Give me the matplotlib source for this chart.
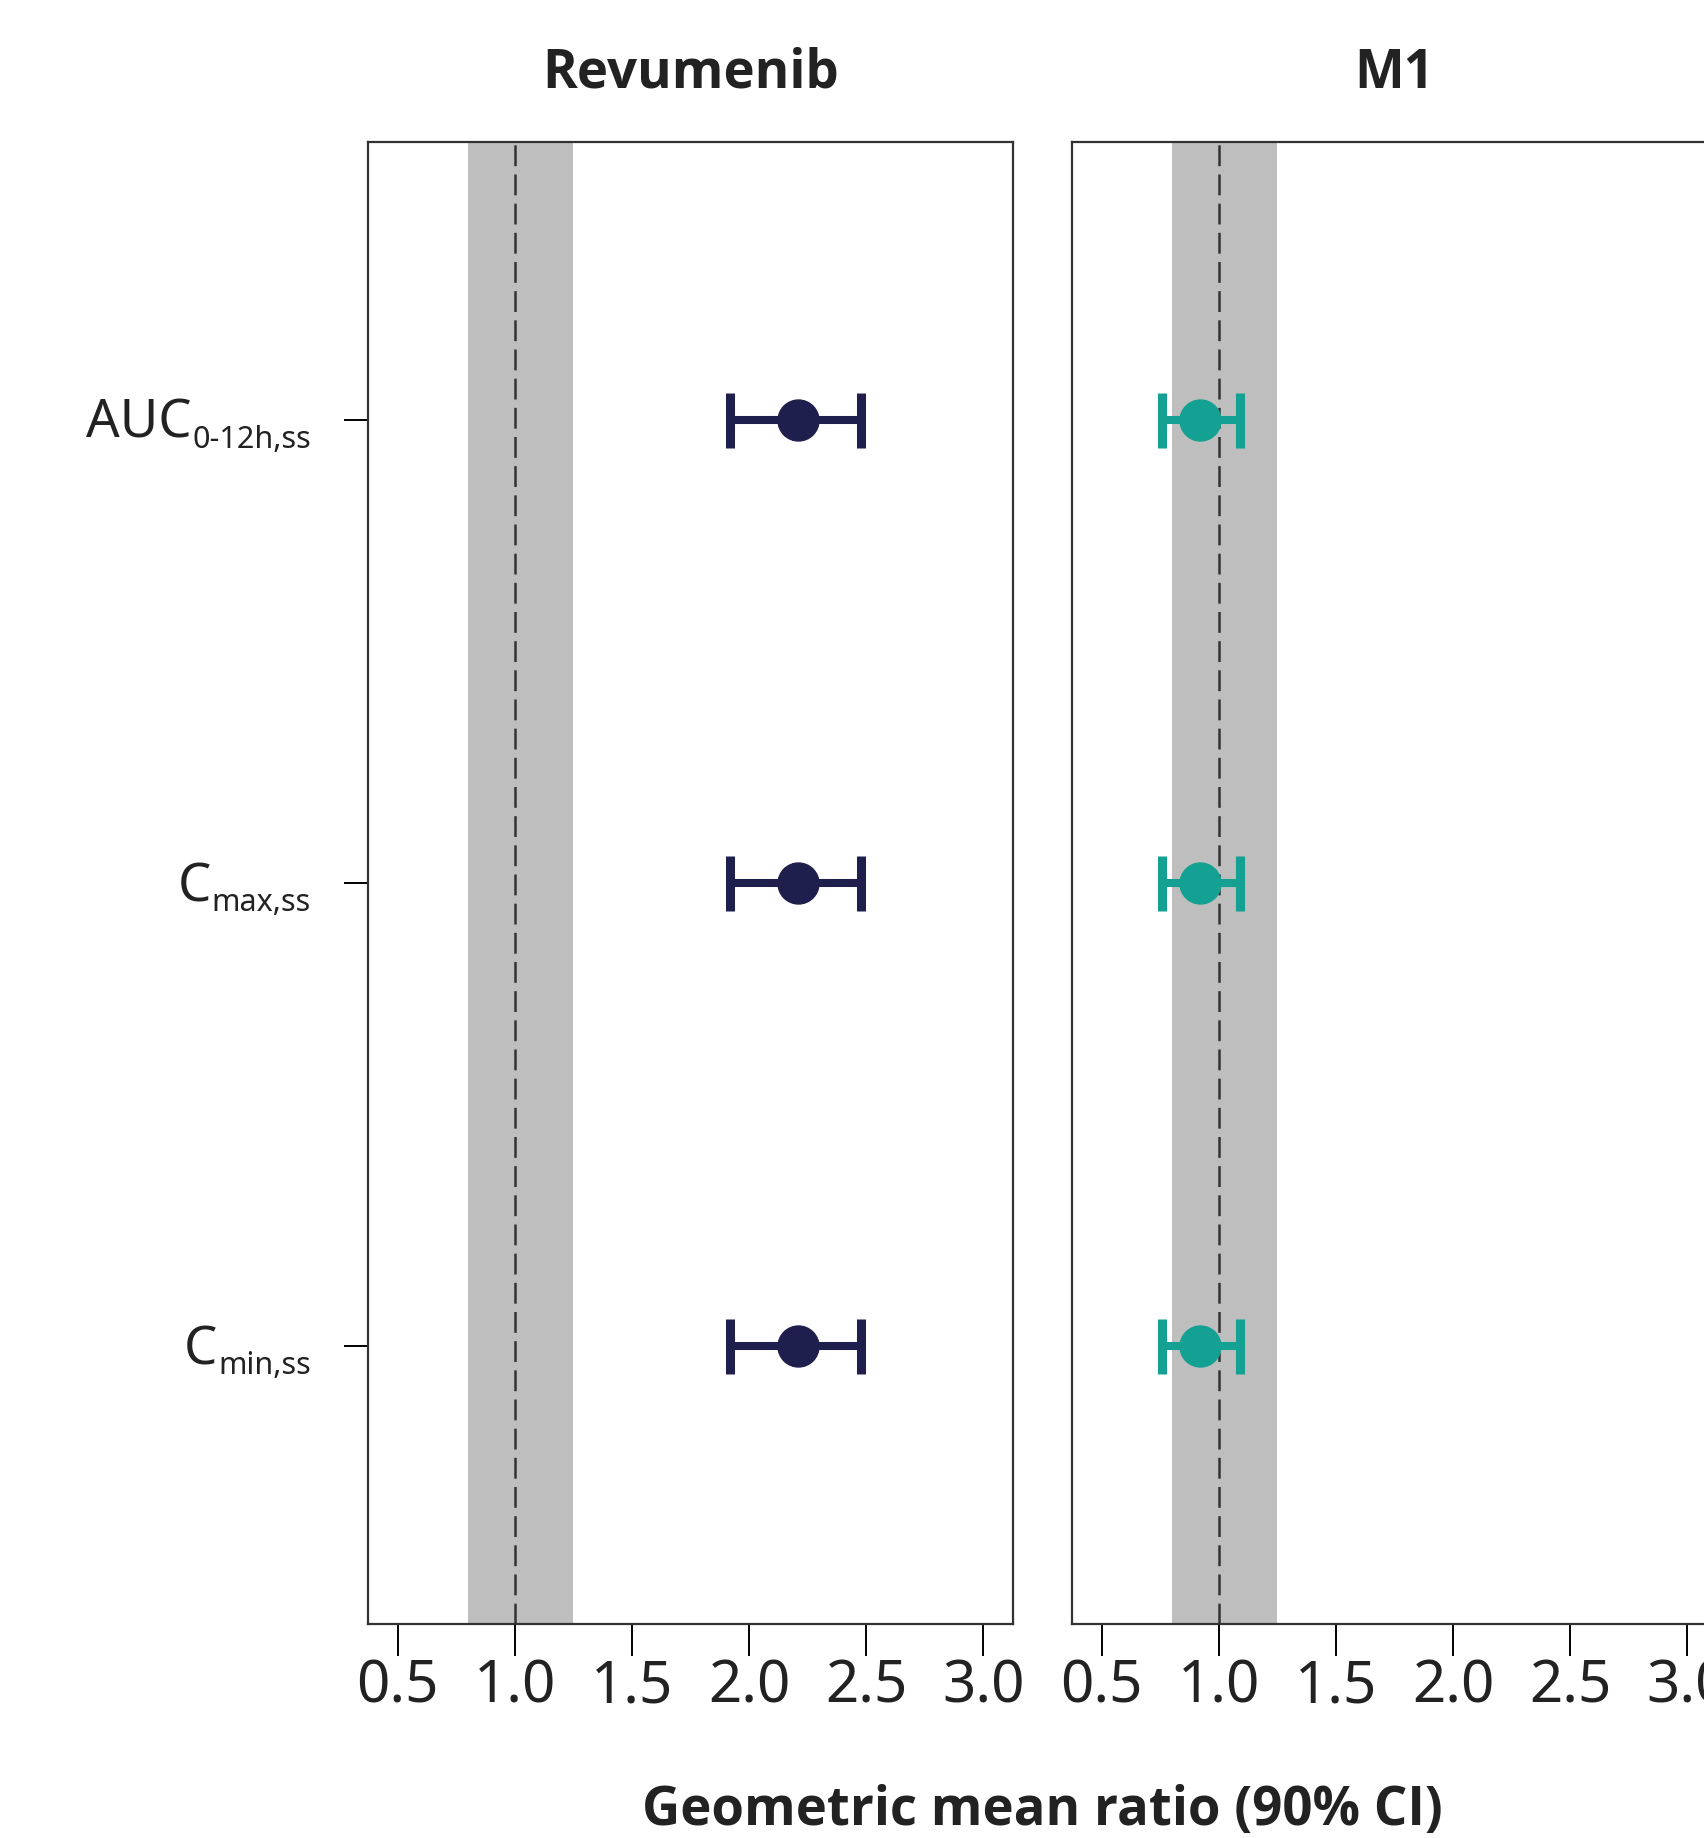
"""
Forest plot of geometric mean ratios (90% CI) for revumenib and M1.
"""
import matplotlib
matplotlib.use('Agg')
import matplotlib.pyplot as plt
from matplotlib.transforms import ScaledTranslation

plt.rcParams.update({
    'font.family': 'Noto Sans',
    'lines.scale_dashes': False,
})

# Data
param_main = ['AUC', 'C', 'C']
param_sub = ['0-12h,ss', 'max,ss', 'min,ss']
panels = ['Revumenib', 'M1']
gmr = {
    'Revumenib': [2.21, 2.21, 2.21],
    'M1': [0.92, 0.92, 0.92],
}
ci_low = {
    'Revumenib': [1.92, 1.92, 1.92],
    'M1': [0.76, 0.76, 0.76],
}
ci_high = {
    'Revumenib': [2.48, 2.48, 2.48],
    'M1': [1.09, 1.09, 1.09],
}
xticks = [0.5, 1.0, 1.5, 2.0, 2.5, 3.0]
band = (0.8, 1.25)

COLORS = {'Revumenib': '#1F1F4E', 'M1': '#14A092'}
BOLD_FONT = 'Open Sans'
TEXT_COLOR = '#222222'

W, H = 1704, 1838
fig = plt.figure(figsize=(W / 100, H / 100), dpi=100)

ax_w = 645 / W
ax_h = 1482 / H
ax_b = 214 / H
lefts = [368 / W, 1072 / W]

ypos = [3, 2, 1]
axes = []

for i, name in enumerate(panels):
    ax = fig.add_axes([lefts[i], ax_b, ax_w, ax_h])
    axes.append(ax)
    ax.axvspan(band[0], band[1], color='#BEBEBE', lw=0, zorder=0)
    ax.axvline(1.0, color='#333333', lw=1.8, dashes=(15, 6), zorder=1)

    vals = gmr[name]
    lo = [v - l for v, l in zip(vals, ci_low[name])]
    hi = [h - v for v, h in zip(vals, ci_high[name])]
    ax.errorbar(vals, ypos, xerr=[lo, hi], fmt='o', color=COLORS[name],
                ms=29.5, elinewidth=5.8, capsize=19.8, capthick=6.5, zorder=3)

    ax.set_xlim(0.374, 3.127)
    ax.set_ylim(0.4, 3.6)
    ax.set_xticks(xticks)
    ax.set_xticklabels([f'{t:.1f}' for t in xticks])
    ax.tick_params(axis='x', length=23, width=1.4, pad=1, labelsize=42,
                   labelcolor=TEXT_COLOR)
    for s in ax.spines.values():
        s.set_linewidth(1.6)
        s.set_color('#333333')

    if i == 0:
        ax.set_yticks(ypos)
        ax.set_yticklabels([])
        ax.tick_params(axis='y', length=17, width=1.4)
    else:
        ax.set_yticks([])

    ax.text(0.5, 1.046, name, transform=ax.transAxes, ha='center',
            va='center', fontsize=38, fontweight='bold', family=BOLD_FONT,
            color=TEXT_COLOR)

fig.text(1042.5 / W, 1 - 1811 / H, 'Geometric mean ratio (90% CI)',
         ha='center', va='center', fontsize=38, fontweight='bold',
         family=BOLD_FONT, color=TEXT_COLOR)

# y labels with subscripts, drawn as two texts per row
ax = axes[0]
ytrans = ax.get_yaxis_transform()
renderer = fig.canvas.get_renderer()
gap = 33 / 100  # inches from axis to subscript
for y, main, sub in zip(ypos, param_main, param_sub):
    st = ax.text(0, y, sub, ha='right', va='baseline', fontsize=22,
                 color=TEXT_COLOR,
                 transform=ytrans + ScaledTranslation(-(24 / 100 + gap), -28 / 100,
                                                      fig.dpi_scale_trans))
    sw = st.get_window_extent(renderer).width / fig.dpi
    ax.text(0, y, main, ha='right', va='baseline', fontsize=38,
            color=TEXT_COLOR,
            transform=ytrans + ScaledTranslation(-(24 / 100 + gap + sw + 0.01),
                                                 -18 / 100, fig.dpi_scale_trans))

fig.savefig('out.png', dpi=100)
plt.close(fig)
